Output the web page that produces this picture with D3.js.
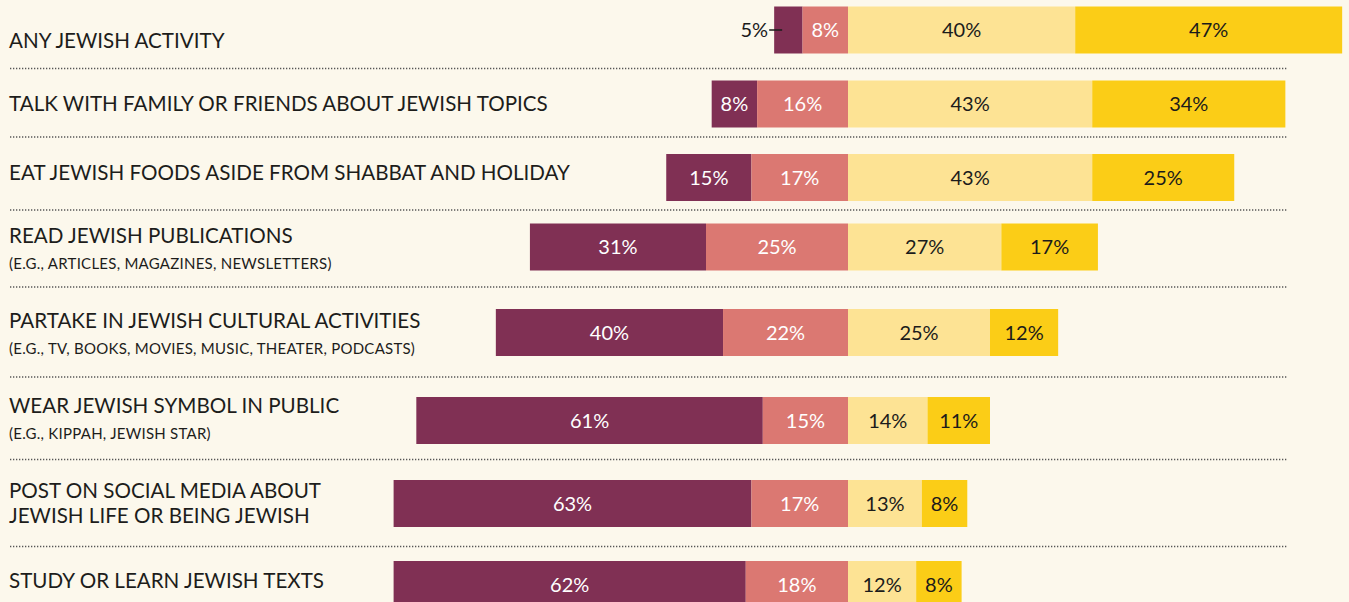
<!DOCTYPE html>
<html>
<head>
<meta charset="utf-8">
<script src="https://cdn.jsdelivr.net/npm/d3@7"></script>
<style>
  html, body { margin: 0; padding: 0; background: #fcf8ec; }
  svg { display: block; }
  text { font-family: Lato, "Noto Sans", sans-serif; }
</style>
</head>
<body>
<div id="chart"></div>
<script>
// Data
const categories = [
    "Any Jewish activity",
    "Talk with family or friends",
    "Eat Jewish foods",
    "Read Jewish publications",
    "Partake in cultural activities",
    "Wear Jewish symbol",
    "Post on social media",
    "Study Jewish texts"
];
const titles = [
    ["ANY JEWISH ACTIVITY"],
    ["TALK WITH FAMILY OR FRIENDS ABOUT JEWISH TOPICS"],
    ["EAT JEWISH FOODS ASIDE FROM SHABBAT AND HOLIDAY"],
    ["READ JEWISH PUBLICATIONS"],
    ["PARTAKE IN JEWISH CULTURAL ACTIVITIES"],
    ["WEAR JEWISH SYMBOL IN PUBLIC"],
    ["POST ON SOCIAL MEDIA ABOUT", "JEWISH LIFE OR BEING JEWISH"],
    ["STUDY OR LEARN JEWISH TEXTS"]
];
const subtitles = [
    "", "", "",
    "(E.G., ARTICLES, MAGAZINES, NEWSLETTERS)",
    "(E.G., TV, BOOKS, MOVIES, MUSIC, THEATER, PODCASTS)",
    "(E.G., KIPPAH, JEWISH STAR)",
    "", ""
];
const never     = [5, 8, 15, 31, 40, 61, 63, 62];
const rarely    = [8, 16, 17, 25, 22, 15, 17, 18];
const sometimes = [40, 43, 43, 27, 25, 14, 13, 12];
const often     = [47, 34, 25, 17, 12, 11, 8, 8];

// Layout (rows are not evenly spaced in the original)
const width = 1349;
const height = 602;
const rowCenters = [30, 104, 177.5, 247, 332.5, 420.5, 503.5, 584.5];
const titleBaselines = [48.3, 111, 180, 243.3, 328.3, 413.3, 498.3, 587.7];
const dividers = [68.5, 137, 210, 287, 377, 459.5, 546.5];
const barHeight = 47;

const colors = {
    never: "#803054",
    rarely: "#db7872",
    sometimes: "#fde394",
    often: "#fbcd17"
};

const svg = d3.select("#chart")
    .append("svg")
    .attr("width", width)
    .attr("height", height);

svg.append("rect")
    .attr("width", width)
    .attr("height", height)
    .attr("fill", "#fcf8ec");

// diverging scale, zero at the centre line
const x = d3.scaleLinear()
    .domain([-100, 100])
    .range([848 - 568, 848 + 568]);

const y = d3.scaleOrdinal()
    .domain(categories)
    .range(rowCenters);

// build segments
let segments = [];
categories.forEach(function(c, i) {
    segments.push({cat: c, key: "never", v: never[i], x0: -(never[i] + rarely[i]), x1: -rarely[i]});
    segments.push({cat: c, key: "rarely", v: rarely[i], x0: -rarely[i], x1: 0});
    segments.push({cat: c, key: "sometimes", v: sometimes[i], x0: 0, x1: sometimes[i]});
    segments.push({cat: c, key: "often", v: often[i], x0: sometimes[i], x1: sometimes[i] + often[i]});
});

// dotted dividers
svg.append("g")
    .selectAll("line")
    .data(dividers)
    .join("line")
    .attr("x1", 10)
    .attr("x2", 1287)
    .attr("y1", function(d) { return d; })
    .attr("y2", function(d) { return d; })
    .attr("stroke", "#555")
    .attr("stroke-width", 1.3)
    .attr("stroke-dasharray", "1.3 1.7");

// bars
svg.append("g")
    .selectAll("rect")
    .data(segments)
    .join("rect")
    .attr("x", function(d) { return x(d.x0); })
    .attr("width", function(d) { return x(d.x1) - x(d.x0); })
    .attr("y", function(d) { return y(d.cat) - barHeight / 2; })
    .attr("height", barHeight)
    .attr("fill", function(d) { return colors[d.key]; });

// value labels
const small = function(d) { return x(d.x1) - x(d.x0) < 32; };

svg.append("g")
    .selectAll("text")
    .data(segments)
    .join("text")
    .attr("x", function(d) {
        return small(d) ? x(d.x0) - 6 : (x(d.x0) + x(d.x1)) / 2;
    })
    .attr("y", function(d) { return y(d.cat); })
    .attr("dy", "0.36em")
    .attr("text-anchor", function(d) { return small(d) ? "end" : "middle"; })
    .attr("font-size", 20)
    .attr("fill", function(d) {
        if (small(d)) return "#1b1b1b";
        return (d.key === "never" || d.key === "rarely") ? "#ffffff" : "#1b1b1b";
    })
    .text(function(d) { return d.v + "%"; });

// leader for labels outside the bar
svg.append("g")
    .selectAll("line")
    .data(segments.filter(small))
    .join("line")
    .attr("x1", function(d) { return x(d.x0) - 5; })
    .attr("x2", function(d) { return x(d.x0) + 8; })
    .attr("y1", function(d) { return y(d.cat); })
    .attr("y2", function(d) { return y(d.cat); })
    .attr("stroke", "#1b1b1b")
    .attr("stroke-width", 1.5);

// row titles
const titleG = svg.append("g")
    .selectAll("text.title")
    .data(categories)
    .join("text")
    .attr("class", "title")
    .attr("x", 9)
    .attr("y", function(d, i) { return titleBaselines[i]; })
    .attr("font-size", 20.6)
    .attr("fill", "#1d1d1b");

titleG.selectAll("tspan")
    .data(function(d, i) { return titles[i]; })
    .join("tspan")
    .attr("x", 9)
    .attr("dy", function(d, j) { return j === 0 ? 0 : 25; })
    .text(function(d) { return d; });

// subtitles
svg.append("g")
    .selectAll("text.sub")
    .data(categories.filter(function(d, i) { return subtitles[i] !== ""; }))
    .join("text")
    .attr("class", "sub")
    .attr("x", 9)
    .attr("y", function(d) { return titleBaselines[categories.indexOf(d)] + 25.5; })
    .attr("font-size", 15)
    .attr("letter-spacing", 0.25)
    .attr("fill", "#1d1d1b")
    .text(function(d) { return subtitles[categories.indexOf(d)]; });
</script>
</body>
</html>
